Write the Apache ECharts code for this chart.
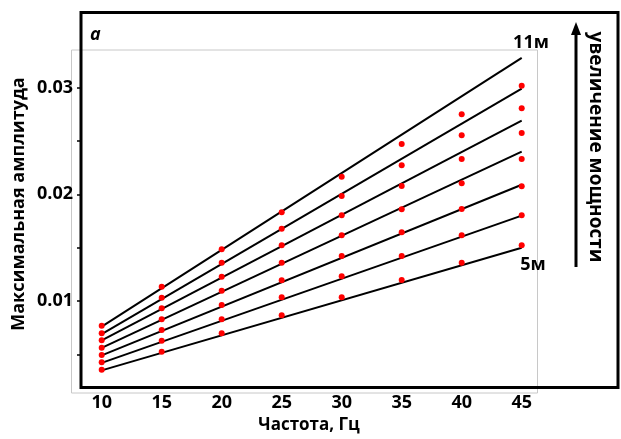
<!DOCTYPE html>
<html>
<head>
<meta charset="utf-8">
<script src="https://cdn.jsdelivr.net/npm/echarts@6/dist/echarts.min.js"></script>
<style>
  html, body { margin: 0; padding: 0; background: #fff; }
  #chart { width: 621px; height: 439px; }
</style>
</head>
<body>
<div id="chart"></div>
<script>
  // частоты, Гц
  var freq = [10, 15, 20, 25, 30, 35, 40, 45];

  // измеренные амплитуды (точки), от 5м до 11м
  var m5  = [0.00356, 0.00525, 0.00697, 0.00866, 0.01035, 0.01197, 0.01359, 0.01522];
  var m6  = [0.00426, 0.00628, 0.00829, 0.01035, 0.01232, 0.01422, 0.01616, 0.01804];
  var m7  = [0.00494, 0.00728, 0.00963, 0.01194, 0.01422, 0.01644, 0.01863, 0.02076];
  var m8  = [0.00562, 0.00829, 0.01097, 0.01359, 0.01616, 0.01860, 0.02104, 0.02332];
  var m9  = [0.00632, 0.00932, 0.01228, 0.01522, 0.01804, 0.02078, 0.02332, 0.02575];
  var m10 = [0.00697, 0.01031, 0.01359, 0.01678, 0.01985, 0.02272, 0.02554, 0.02807];
  var m11 = [0.00769, 0.01134, 0.01485, 0.01832, 0.02166, 0.02472, 0.02750, 0.03019];

  // аппроксимирующие прямые: значение при 10 Гц и при 45 Гц
  var fitStart = [0.0035, 0.0042, 0.0049, 0.0056, 0.0063, 0.0069, 0.0076];
  var fitEnd   = [0.0150, 0.0180, 0.0209, 0.0240, 0.0269, 0.0299, 0.0328];

  var xTicks = [10, 15, 20, 25, 30, 35, 40, 45];
  var yLabels = [0.01, 0.02, 0.03];
  var yTicks = [0.005, 0.01, 0.015, 0.02, 0.025, 0.03];

  var groups = [m5, m6, m7, m8, m9, m10, m11];
  var font = 'Open Sans';

  var series = [];
  for (var i = 0; i < groups.length; i++) {
    series.push({
      type: 'line',
      data: [[freq[0], fitStart[i]], [freq[freq.length - 1], fitEnd[i]]],
      symbol: 'none',
      silent: true,
      lineStyle: { color: '#000', width: 2 },
      z: 2
    });
  }
  for (var j = 0; j < groups.length; j++) {
    series.push({
      type: 'scatter',
      data: freq.map(function (f, k) { return [f, groups[j][k]]; }),
      symbolSize: 6,
      itemStyle: { color: '#ff0000', opacity: 1 },
      z: 3
    });
  }

  var chart = echarts.init(document.getElementById('chart'));
  var option = {
    animation: false,
    backgroundColor: '#fff',
    grid: { left: 81, right: 84, top: 50, bottom: 52 },
    xAxis: {
      type: 'value',
      min: 8.275,
      max: 46.275,
      axisLine: { show: false },
      axisTick: { show: false },
      splitLine: { show: false },
      axisLabel: {
        customValues: xTicks,
        color: '#000',
        fontFamily: font,
        fontWeight: 'bold',
        fontSize: 18,
        margin: 7
      },
      name: 'Частота, Гц',
      nameLocation: 'middle',
      nameGap: 28,
      nameTextStyle: { color: '#000', fontFamily: font, fontWeight: 'bold', fontSize: 17 }
    },
    yAxis: {
      type: 'value',
      min: 0.00194,
      max: 0.03353,
      axisLine: { show: false },
      splitLine: { show: false },
      axisTick: {
        show: true,
        customValues: yTicks,
        length: 4,
        lineStyle: { color: '#000', width: 1.5 }
      },
      axisLabel: {
        customValues: yLabels,
        color: '#000',
        fontFamily: font,
        fontWeight: 'bold',
        fontSize: 18,
        margin: 8,
        formatter: function (v) { return v.toFixed(2); }
      }
    },
    graphic: [
      { // светло-серая рамка области графика
        type: 'rect', z: 0, silent: true,
        shape: { x: 71.5, y: 50, width: 466, height: 343 },
        style: { fill: null, stroke: '#c8c8c8', lineWidth: 1 }
      },
      { // толстая чёрная рамка
        type: 'rect', z: 10, silent: true,
        shape: { x: 81, y: 12.5, width: 537, height: 375 },
        style: { fill: null, stroke: '#000', lineWidth: 3 }
      },
      {
        type: 'text', z: 10, x: 19, y: 204, rotation: Math.PI / 2,
        style: { text: 'Максимальная амплитуда', font: 'bold 18px "Open Sans"', fill: '#000', align: 'center', verticalAlign: 'middle' }
      },
      {
        type: 'text', z: 10, x: 90, y: 35,
        style: { text: 'a', font: 'italic bold 18px "Open Sans"', fill: '#000', verticalAlign: 'middle' }
      },
      {
        type: 'text', z: 10, x: 531, y: 43,
        style: { text: '11м', font: 'bold 18px "Open Sans"', fill: '#000', align: 'center', verticalAlign: 'middle' }
      },
      {
        type: 'text', z: 10, x: 533, y: 265,
        style: { text: '5м', font: 'bold 18px "Open Sans"', fill: '#000', align: 'center', verticalAlign: 'middle' }
      },
      { // стрелка
        type: 'line', z: 10, silent: true,
        shape: { x1: 576, y1: 32, x2: 576, y2: 267 },
        style: { stroke: '#000', lineWidth: 3 }
      },
      {
        type: 'polygon', z: 10, silent: true,
        shape: { points: [[576, 22], [571, 35], [581, 35]] },
        style: { fill: '#000' }
      },
      {
        type: 'text', z: 10, x: 595, y: 147, rotation: -Math.PI / 2,
        style: { text: 'увеличение мощности', font: 'bold 19px "Open Sans"', fill: '#000', align: 'center', verticalAlign: 'middle' }
      }
    ],
    series: series
  };
  chart.setOption(option);
</script>
</body>
</html>
